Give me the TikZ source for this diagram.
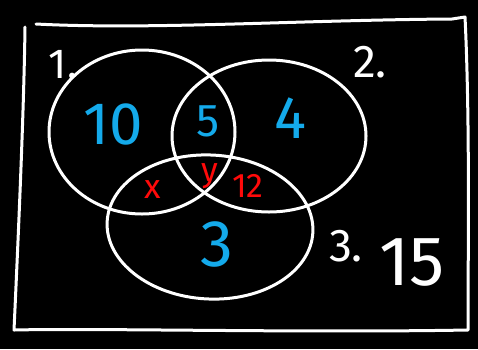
\documentclass[tikz,border=0pt]{standalone}
\usepackage{fontspec}
\setmainfont{Fira Sans}
\usetikzlibrary{shapes.geometric}
\definecolor{penblue}{RGB}{20,170,235}
\definecolor{penred}{RGB}{255,10,10}
\tikzset{
  chalk/.style={draw=white, line width=3pt, line join=round, line cap=round},
  setring/.style={chalk, ellipse, inner sep=0pt},
  bignum/.style={text=penblue, font=\fontsize{60}{60}\selectfont},
  rednum/.style={text=penred, font=\fontsize{34}{34}\selectfont},
  whitelab/.style={text=white, font=\fontsize{40}{40}\selectfont},
}
\begin{document}
\begin{tikzpicture}[x=1pt,y=-1pt]
\fill[black] (0,0) rectangle (478,349);
\useasboundingbox (0,0) rectangle (478,349);
% frame
\coordinate (f1) at (36,24);
\coordinate (f2) at (452,19);
\coordinate (f3) at (468,330);
\coordinate (f4) at (14,330);
\draw[chalk] (f1) .. controls (150,30) and (300,20) .. (f2) -- (465,17)
  .. controls (470,120) and (468,250) .. (f3)
  .. controls (300,333) and (100,328) .. (f4)
  .. controls (20,200) and (24,100) .. (25,27);
% sets
\node[setring, minimum width=186pt, minimum height=164pt] (s1) at (142,132) {};
\node[setring, minimum width=194pt, minimum height=152pt] (s2) at (269,136) {};
\node[setring, minimum width=206pt, minimum height=144pt, rotate=-3] (s3) at (210,227) {};
% labels
\node[whitelab, font=\fontsize{42}{42}\selectfont] (l1) at (63,65) {1.};
\node[whitelab, font=\fontsize{46}{46}\selectfont] (l2) at (370,62) {2.};
\node[whitelab, font=\fontsize{46}{46}\selectfont] (l3) at (346,246) {3.};
\node[whitelab, font=\fontsize{70}{70}\selectfont] (u) at (412,262) {15};
% counts
\node[bignum] (n1) at (113,124) {10};
\node[bignum, font=\fontsize{46}{46}\selectfont] (n12) at (208,121) {5};
\node[bignum] (n2) at (290,118) {4};
\node[bignum, font=\fontsize{66}{66}\selectfont] (n3) at (217,244) {3};
\node[rednum] (r13) at (153,190) {x};
\node[rednum] (r123) at (210,176) {y};
\node[rednum] (r23) at (248,186) {12};
\end{tikzpicture}
\end{document}
